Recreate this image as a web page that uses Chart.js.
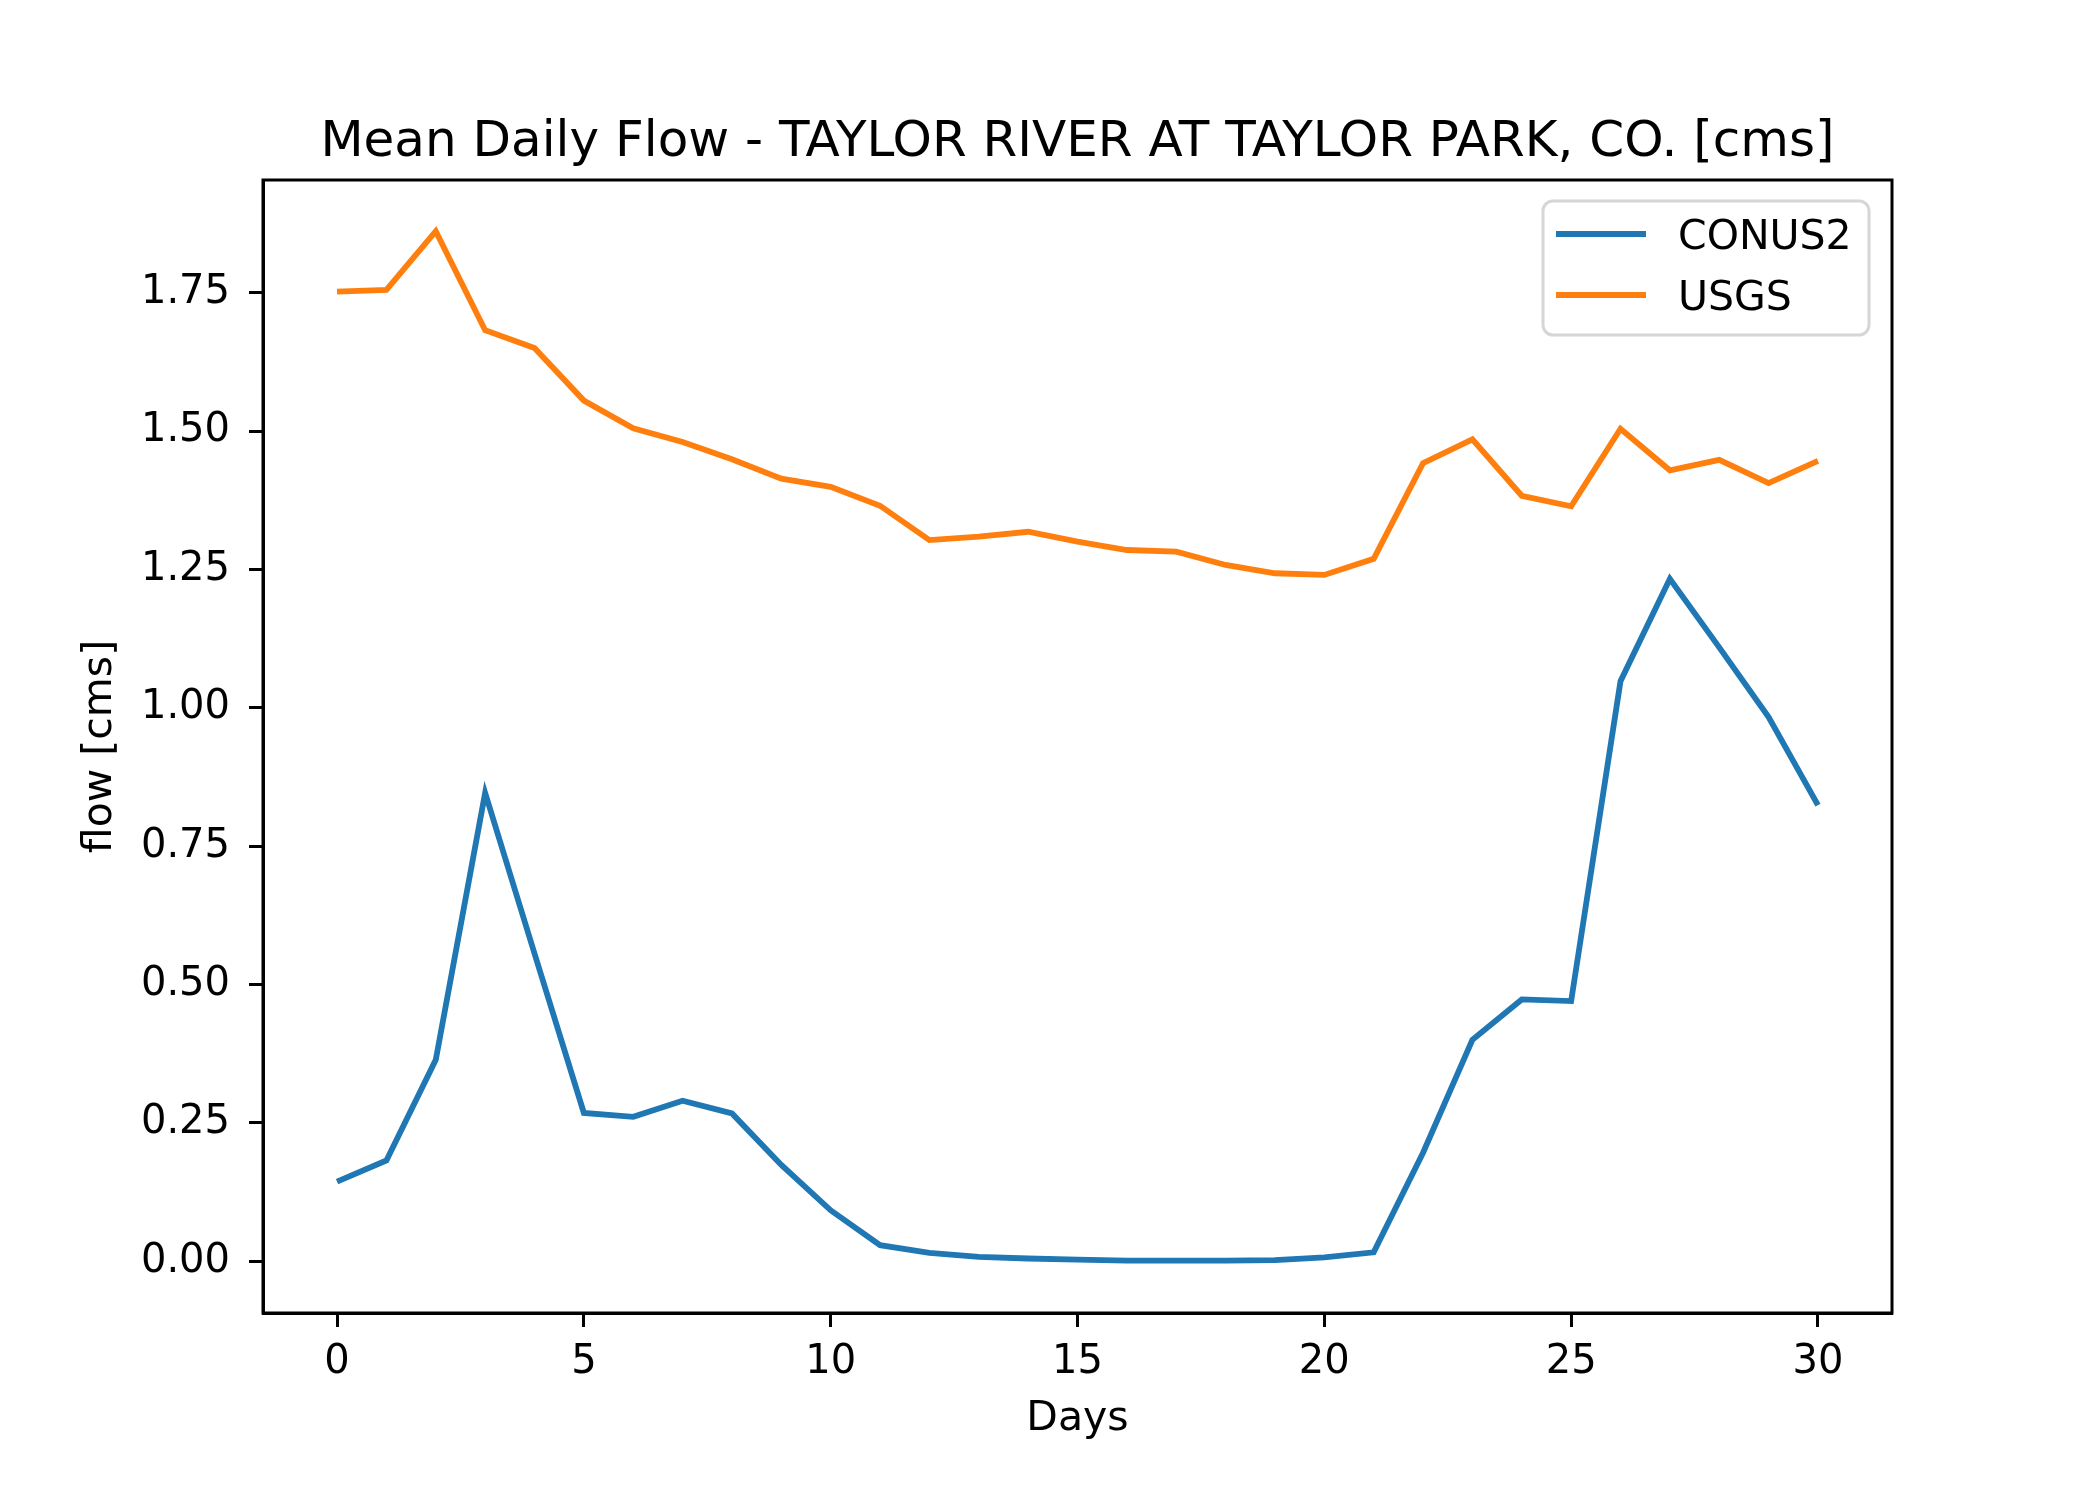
<!DOCTYPE html>
<html>
<head>
<meta charset="utf-8">
<title>Mean Daily Flow - TAYLOR RIVER AT TAYLOR PARK, CO.</title>
<script src="https://cdn.jsdelivr.net/npm/chart.js@4.4.1/dist/chart.umd.min.js"></script>
<style>
  html, body { margin: 0; padding: 0; background: #fff; }
  #wrap { width: 2100px; height: 1500px; }
</style>
</head>
<body>
<div id="wrap"><canvas id="flowChart" width="2100" height="1500"></canvas></div>
<script>
// daily values
const days = [0, 1, 2, 3, 4, 5, 6, 7, 8, 9, 10, 11, 12, 13, 14, 15,
              16, 17, 18, 19, 20, 21, 22, 23, 24, 25, 26, 27, 28, 29, 30];
const conus2 = [0.144, 0.182, 0.364, 0.846, 0.556, 0.268, 0.261, 0.290, 0.267, 0.174, 0.092,
                0.029, 0.015, 0.008, 0.005, 0.003, 0.001, 0.001, 0.001, 0.002, 0.007,
                0.016, 0.196, 0.400, 0.473, 0.470, 1.048, 1.233, 1.109, 0.983, 0.824];
const usgs = [1.752, 1.755, 1.861, 1.682, 1.650, 1.555, 1.505, 1.480, 1.449, 1.414, 1.399,
              1.365, 1.303, 1.309, 1.318, 1.300, 1.285, 1.282, 1.258, 1.243, 1.240,
              1.269, 1.442, 1.485, 1.383, 1.364, 1.504, 1.429, 1.448, 1.406, 1.446];
const xTicks = [0, 5, 10, 15, 20, 25, 30];
const yTicks = [0, 0.25, 0.5, 0.75, 1.0, 1.25, 1.5, 1.75];
const seriesNames = ['CONUS2', 'USGS'];
const seriesColors = ['#1f77b4', '#ff7f0e'];

const FONT = 'DejaVu Sans';
const lw = 5.8;

function toPoints(ys) {
    return days.map((d, i) => ({ x: d, y: ys[i] }));
}

// matplotlib style frame, title and legend
const decorations = {
    id: 'decorations',
    afterDatasetsDraw(chart) {
        const ctx = chart.ctx;
        const a = chart.chartArea;
        ctx.save();
        ctx.strokeStyle = '#000';
        ctx.lineWidth = 3;
        ctx.strokeRect(a.left, a.top, a.right - a.left, a.bottom - a.top);

        ctx.fillStyle = '#000';
        ctx.font = '50px "' + FONT + '"';
        ctx.textAlign = 'center';
        ctx.textBaseline = 'alphabetic';
        ctx.fillText('Mean Daily Flow - TAYLOR RIVER AT TAYLOR PARK, CO. [cms]', (a.left + a.right) / 2, 156);

        // legend box
        const bx = 1543, by = 201, bw = 326, bh = 134, r = 10;
        ctx.beginPath();
        ctx.roundRect(bx, by, bw, bh, r);
        ctx.fillStyle = 'rgba(255,255,255,0.8)';
        ctx.fill();
        ctx.strokeStyle = '#d6d6d6';
        ctx.lineWidth = 3;
        ctx.stroke();

        ctx.font = '41px "' + FONT + '"';
        ctx.textAlign = 'left';
        seriesNames.forEach((name, i) => {
            const y = 234 + i * 61;
            ctx.beginPath();
            ctx.moveTo(1556, y);
            ctx.lineTo(1646, y);
            ctx.strokeStyle = seriesColors[i];
            ctx.lineWidth = lw;
            ctx.stroke();
            ctx.fillStyle = '#000';
            ctx.fillText(name, 1678, y + 15);
        });
        ctx.restore();
    }
};

const ctx = document.getElementById('flowChart').getContext('2d');
const chart = new Chart(ctx, {
    type: 'line',
    data: {
        datasets: [{
            label: seriesNames[0],
            data: toPoints(conus2),
            borderColor: seriesColors[0],
            borderWidth: lw,
            pointRadius: 0,
            tension: 0
        }, {
            label: seriesNames[1],
            data: toPoints(usgs),
            borderColor: seriesColors[1],
            borderWidth: lw,
            pointRadius: 0,
            tension: 0
        }]
    },
    options: {
        responsive: false,
        devicePixelRatio: 1,
        animation: false,
        layout: { padding: { left: 0, top: 180, right: 208, bottom: 0 } },
        plugins: {
            legend: { display: false },
            title: { display: false },
            tooltip: { enabled: false }
        },
        scales: {
            x: {
                type: 'linear',
                min: -1.5,
                max: 31.5,
                afterBuildTicks: scale => { scale.ticks = xTicks.map(v => ({ value: v })); },
                afterFit: scale => { scale.height = 187; },
                ticks: {
                    color: '#000',
                    padding: 12,
                    font: { family: FONT, size: 40 },
                    callback: v => String(v)
                },
                grid: { drawOnChartArea: false, tickLength: 14, tickWidth: 3, tickColor: '#000' },
                border: { display: true, color: '#000', width: 3 },
                title: {
                    display: true,
                    text: 'Days',
                    color: '#000',
                    font: { family: FONT, size: 41 },
                    padding: { top: 0, bottom: 56 }
                }
            },
            y: {
                min: -0.0935,
                max: 1.9535,
                afterBuildTicks: scale => { scale.ticks = yTicks.map(v => ({ value: v })); },
                afterFit: scale => { scale.width = 263; },
                ticks: {
                    color: '#000',
                    padding: 19,
                    font: { family: FONT, size: 40 },
                    callback: v => v.toFixed(2)
                },
                grid: { drawOnChartArea: false, tickLength: 14, tickWidth: 3, tickColor: '#000' },
                border: { display: true, color: '#000', width: 3 },
                title: {
                    display: true,
                    text: 'flow [cms]',
                    color: '#000',
                    font: { family: FONT, size: 41 },
                    padding: { top: 76, bottom: 0 }
                }
            }
        }
    },
    plugins: [decorations]
});
</script>
</body>
</html>
